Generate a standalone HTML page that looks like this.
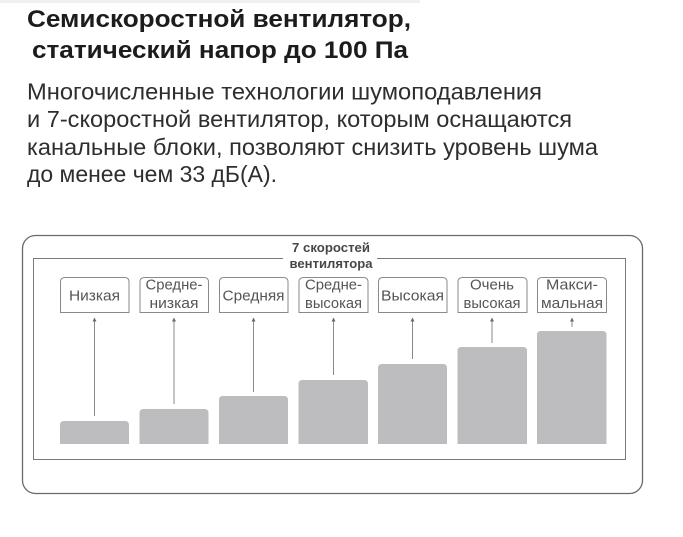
<!DOCTYPE html>
<html>
<head>
<meta charset="utf-8">
<style>
html,body{margin:0;padding:0;background:#fff;}
svg{display:block;}
.t{font-family:"Liberation Sans",Arial,sans-serif;}
</style>
</head>
<body>
<svg width="683" height="537" viewBox="0 0 683 537" xmlns="http://www.w3.org/2000/svg" class="t">
  <rect x="0" y="0" width="683" height="537" fill="#fff"/>
  <rect x="0" y="0" width="420" height="3" fill="#f0f0f0"/>

  <!-- Title -->
  <g font-family="Liberation Sans, sans-serif" font-weight="bold" font-size="24" fill="#1c1c1c">
    <text x="27" y="27" textLength="384" lengthAdjust="spacingAndGlyphs">Семискоростной вентилятор,</text>
    <text x="32" y="58" textLength="376" lengthAdjust="spacingAndGlyphs">статический напор до 100 Па</text>
  </g>

  <!-- Body -->
  <g font-family="Liberation Sans, sans-serif" font-size="23.5" fill="#2e2e2e">
    <text x="27" y="99.5" textLength="515" lengthAdjust="spacingAndGlyphs">Многочисленные технологии шумоподавления</text>
    <text x="27" y="127" textLength="545" lengthAdjust="spacingAndGlyphs">и 7-скоростной вентилятор, которым оснащаются</text>
    <text x="27" y="155" textLength="571" lengthAdjust="spacingAndGlyphs">канальные блоки, позволяют снизить уровень шума</text>
    <text x="27" y="182" textLength="250" lengthAdjust="spacingAndGlyphs">до менее чем 33 дБ(А).</text>
  </g>

  <!-- Outer frame -->
  <rect x="22.5" y="235.5" width="620" height="258" rx="13" ry="13" fill="none" stroke="#6a6a6a" stroke-width="1.3"/>

  <!-- Inner frame with gap for title -->
  <path d="M283 258.5 H33.5 V459.5 H625.5 V258.5 H377" fill="none" stroke="#7a7a7a" stroke-width="1"/>

  <!-- Chart title -->
  <g font-family="Liberation Sans, sans-serif" font-weight="bold" font-size="12.5" fill="#474747" text-anchor="middle">
    <text x="331" y="252" textLength="78" lengthAdjust="spacingAndGlyphs">7 скоростей</text>
    <text x="331" y="268" textLength="83" lengthAdjust="spacingAndGlyphs">вентилятора</text>
  </g>

  <!-- Label boxes -->
  <g fill="#fff" stroke="#8a8a8a" stroke-width="1">
    <path d="M60.5 312.5 V282 Q60.5 277.5 65 277.5 H124.5 Q129 277.5 129 282 V312.5 Z"/>
    <path d="M140 312.5 V282 Q140 277.5 144.5 277.5 H204 Q208.5 277.5 208.5 282 V312.5 Z"/>
    <path d="M219.5 312.5 V282 Q219.5 277.5 224 277.5 H283.5 Q288 277.5 288 282 V312.5 Z"/>
    <path d="M299 312.5 V282 Q299 277.5 303.5 277.5 H363.5 Q368 277.5 368 282 V312.5 Z"/>
    <path d="M378.5 312.5 V282 Q378.5 277.5 383 277.5 H442.5 Q447 277.5 447 282 V312.5 Z"/>
    <path d="M458 312.5 V282 Q458 277.5 462.5 277.5 H522.5 Q527 277.5 527 282 V312.5 Z"/>
    <path d="M537.5 312.5 V282 Q537.5 277.5 542 277.5 H602 Q606.5 277.5 606.5 282 V312.5 Z"/>
  </g>

  <!-- Label text -->
  <g font-family="Liberation Sans, sans-serif" font-size="15" fill="#555" text-anchor="middle">
    <text x="94.5" y="300.5" textLength="51" lengthAdjust="spacingAndGlyphs">Низкая</text>
    <text x="174" y="289.5" textLength="57" lengthAdjust="spacingAndGlyphs">Средне-</text>
    <text x="174" y="308" textLength="49" lengthAdjust="spacingAndGlyphs">низкая</text>
    <text x="253.5" y="300.5" textLength="62" lengthAdjust="spacingAndGlyphs">Средняя</text>
    <text x="333.5" y="289.5" textLength="57" lengthAdjust="spacingAndGlyphs">Средне-</text>
    <text x="333.5" y="308" textLength="57" lengthAdjust="spacingAndGlyphs">высокая</text>
    <text x="412.5" y="300.5" textLength="63" lengthAdjust="spacingAndGlyphs">Высокая</text>
    <text x="492" y="289.5" textLength="44" lengthAdjust="spacingAndGlyphs">Очень</text>
    <text x="492" y="308" textLength="57" lengthAdjust="spacingAndGlyphs">высокая</text>
    <text x="572" y="289.5" textLength="52" lengthAdjust="spacingAndGlyphs">Макси-</text>
    <text x="572" y="308" textLength="62" lengthAdjust="spacingAndGlyphs">мальная</text>
  </g>

  <!-- Arrows -->
  <g stroke="#8a8a8a" stroke-width="1">
    <line x1="94.5" y1="320" x2="94.5" y2="416"/>
    <line x1="174" y1="320" x2="174" y2="404"/>
    <line x1="253.5" y1="320" x2="253.5" y2="392"/>
    <line x1="333.5" y1="320" x2="333.5" y2="375"/>
    <line x1="412.5" y1="320" x2="412.5" y2="359"/>
    <line x1="492" y1="320" x2="492" y2="343"/>
    <line x1="572" y1="320" x2="572" y2="327"/>
  </g>
  <g fill="#6a6a6a">
    <path d="M94.5 317.5 L92.5 321.5 H96.5 Z"/>
    <path d="M174 317.5 L172 321.5 H176 Z"/>
    <path d="M253.5 317.5 L251.5 321.5 H255.5 Z"/>
    <path d="M333.5 317.5 L331.5 321.5 H335.5 Z"/>
    <path d="M412.5 317.5 L410.5 321.5 H414.5 Z"/>
    <path d="M492 317.5 L490 321.5 H494 Z"/>
    <path d="M572 317.5 L570 321.5 H574 Z"/>
  </g>

  <!-- Bars -->
  <g fill="#bdbdc0">
    <path d="M60 444 V425 Q60 421 64 421 H125 Q129 421 129 425 V444 Z"/>
    <path d="M139.5 444 V413 Q139.5 409 143.5 409 H204.5 Q208.5 409 208.5 413 V444 Z"/>
    <path d="M219 444 V400 Q219 396 223 396 H284 Q288 396 288 400 V444 Z"/>
    <path d="M298.5 444 V384 Q298.5 380 302.5 380 H364 Q368 380 368 384 V444 Z"/>
    <path d="M378 444 V368 Q378 364 382 364 H443 Q447 364 447 368 V444 Z"/>
    <path d="M457.5 444 V351 Q457.5 347 461.5 347 H523 Q527 347 527 351 V444 Z"/>
    <path d="M537 444 V335 Q537 331 541 331 H602.5 Q606.5 331 606.5 335 V444 Z"/>
  </g>
</svg>
</body>
</html>
